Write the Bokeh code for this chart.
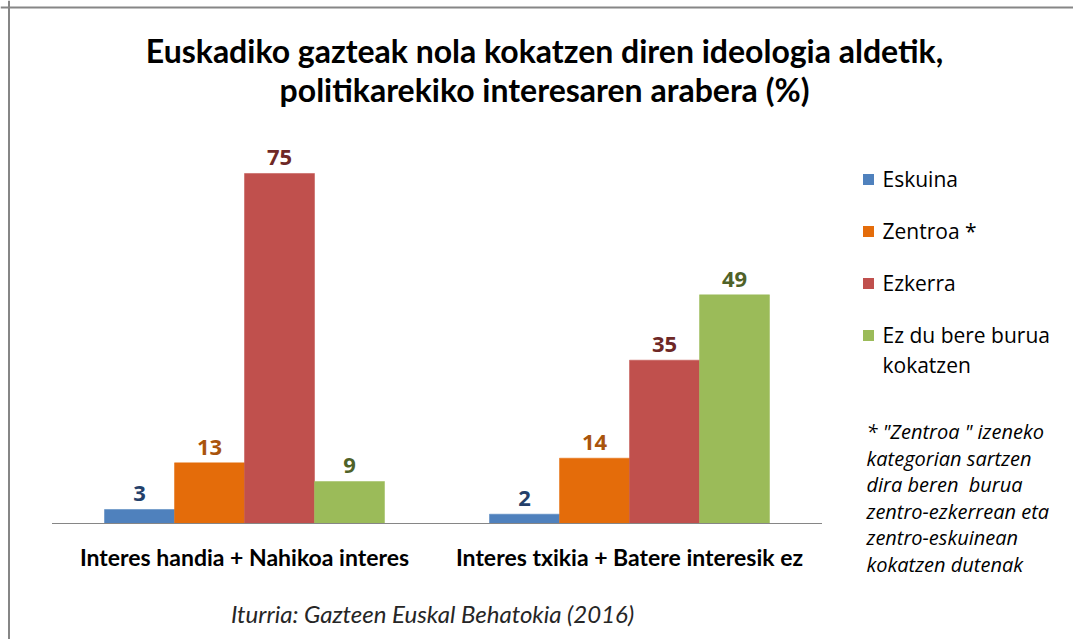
from bokeh.plotting import figure
from bokeh.models import Range1d, Span, ColumnDataSource
from bokeh.core.properties import value
from bokeh.embed import file_html
from bokeh.resources import INLINE

# ---- data ----
categories = ["Interes handia + Nahikoa interes", "Interes txikia + Batere interesik ez"]
series = ["Eskuina", "Zentroa *", "Ezkerra", "Ez du bere burua\nkokatzen"]
eskuina = [3, 2]
zentroa = [13, 14]
ezkerra = [75, 35]
ez_kokatzen = [9, 49]
values = [eskuina, zentroa, ezkerra, ez_kokatzen]
title_lines = ["Euskadiko gazteak nola kokatzen diren ideologia aldetik,",
               "politikarekiko interesaren arabera (%)"]
footnote = ["* \"Zentroa \" izeneko", "kategorian sartzen", "dira beren\u00a0 burua",
            "zentro-ezkerrean eta", "zentro-eskuinean", "kokatzen dutenak"]
source_text = "Iturria: Gazteen Euskal Behatokia (2016)"

bar_colors = ["#4F81BD", "#E46C0A", "#C0504D", "#9BBB59"]
label_colors = ["#24406A", "#A9540C", "#6E2826", "#4F6228"]

# ---- layout (pixel geometry of the canvas) ----
W, H = 1073, 639
CAT_PX = 385.0        # pixels per category
CAT0_PX = 244.0       # centre of first category
BASE_PY = 523.0       # baseline (from top)
PX_PER_UNIT = 4.667   # pixels per percentage point

def xd(px):
    return (px - CAT0_PX) / CAT_PX

def yd(py):
    return (BASE_PY - py) / PX_PER_UNIT

p = figure(width=W, height=H, output_backend="svg", toolbar_location=None,
           x_axis_type=None, y_axis_type=None,
           x_range=Range1d(xd(0), xd(W)), y_range=Range1d(yd(H), yd(0)),
           min_border=0, outline_line_color=None, background_fill_color="white",
           border_fill_color="white")

# chart frame (top and left edges visible)
p.add_layout(Span(location=yd(7), dimension="width", line_color="#868686", line_width=2))
p.add_layout(Span(location=xd(8.5), dimension="height", line_color="#868686", line_width=2))

# bars
n = len(series)
bar_w = 70.0 / CAT_PX
offsets = [(j - (n - 1) / 2) * bar_w for j in range(n)]
for j in range(n):
    xs = [i + offsets[j] for i in range(len(categories))]
    src = ColumnDataSource(dict(x=xs, top=values[j],
                                lab=[str(v) for v in values[j]],
                                ly=[v + 8 / PX_PER_UNIT for v in values[j]]))
    p.vbar(x="x", top="top", bottom=0, width=bar_w, source=src,
           fill_color=bar_colors[j], line_color=bar_colors[j], line_width=0.5)
    p.text(x="x", y="ly", text="lab", source=src, text_align="center",
           text_baseline="bottom", text_font=value("Open Sans"),
           text_font_style="bold", text_font_size="22px",
           text_color=label_colors[j])

# category axis line
p.segment(x0=[-0.5], x1=[len(categories) - 0.5], y0=[0], y1=[0],
          line_color="#868686", line_width=1.2)

# category labels
p.text(x=list(range(len(categories))), y=[yd(556)] * len(categories), text=categories,
       text_align="center", text_baseline="middle", text_font=value("Lato"),
       text_font_style="bold", text_font_size="23px", text_color="#000000")

# title
p.text(x=[xd(544)] * 2, y=[yd(50), yd(89)], text=title_lines, text_align="center",
       text_baseline="middle", text_font=value("Lato"), text_font_style="bold",
       text_font_size="32px", text_color="#000000")

# legend
leg_y = [178, 230, 282, 334]
p.scatter(x=[xd(868)] * n, y=[yd(v + 1) for v in leg_y], marker="square", size=11,
          fill_color=bar_colors, line_color=None)
leg_lines_x, leg_lines_y, leg_lines_t = [], [], []
for j, s in enumerate(series):
    for k, part in enumerate(s.split("\n")):
        leg_lines_x.append(xd(882))
        leg_lines_y.append(yd(leg_y[j] + 30 * k))
        leg_lines_t.append(part)
p.text(x=leg_lines_x, y=leg_lines_y, text=leg_lines_t, text_align="left",
       text_baseline="middle", text_font=value("Open Sans"), text_font_size="21px",
       text_color="#000000")

# footnote
p.text(x=[xd(866)] * len(footnote), y=[yd(431 + 26.6 * k) for k in range(len(footnote))],
       text=footnote, text_align="left", text_baseline="middle",
       text_font=value("Open Sans"), text_font_style="italic", text_font_size="20px",
       text_color="#000000")

# source
p.text(x=[xd(432)], y=[yd(613)], text=[source_text], text_align="center",
       text_baseline="middle", text_font=value("Lato"), text_font_style="italic",
       text_font_size="24px", text_color="#262626")

open("out.html", "w").write(file_html(p, INLINE))
